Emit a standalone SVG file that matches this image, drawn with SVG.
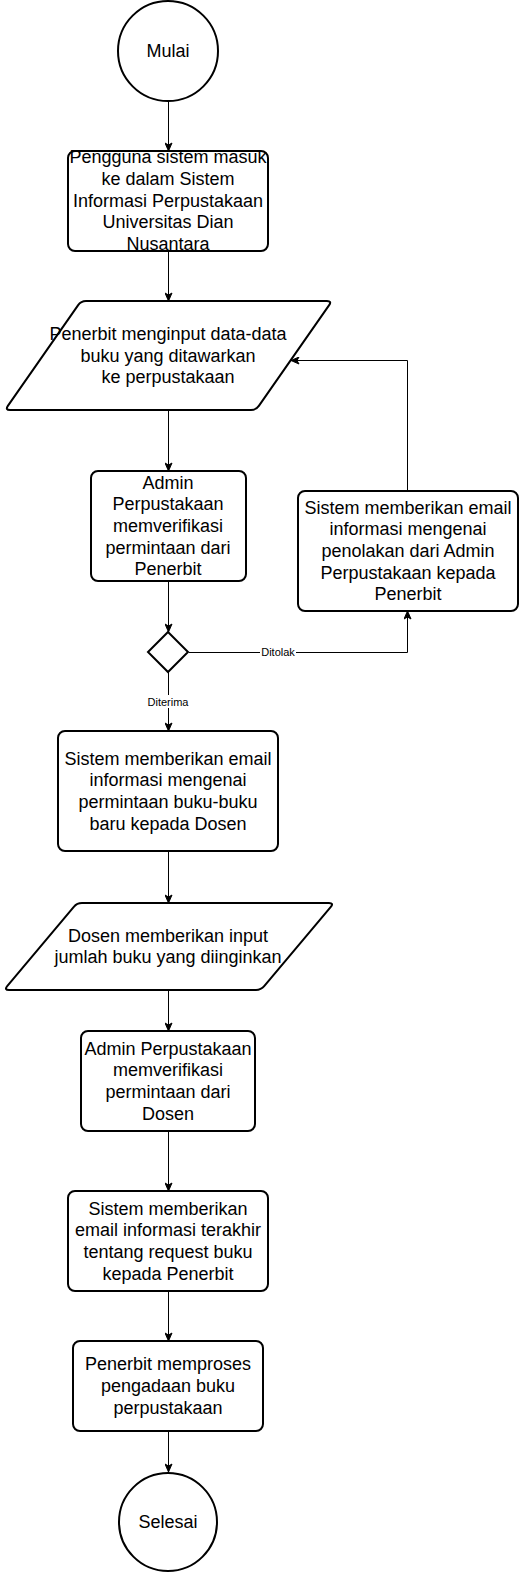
<svg xmlns="http://www.w3.org/2000/svg" width="520" height="1572" viewBox="0 0 520 1572">
<style>
.shape{fill:#fff;stroke:#000;stroke-width:2}
.conn{fill:none;stroke:#000;stroke-width:1;marker-end:url(#arr)}
.t{font-family:"Liberation Sans",Arial,sans-serif;font-size:18px;fill:#000;text-anchor:middle}
.lbl{font-family:"Liberation Sans",Arial,sans-serif;font-size:11px;fill:#000;text-anchor:middle}
</style>
<defs>
<marker id="arr" markerWidth="10" markerHeight="8" refX="9" refY="4" orient="auto" markerUnits="userSpaceOnUse">
<path d="M1,0.5 L9,4 L1,7.5 L3,4 Z" fill="#000" stroke="#000" stroke-width="1"/>
</marker>
</defs>
<rect width="520" height="1572" fill="#fff"/>
<g id="connectors">
<path class="conn" d="M168.5,101 L168.5,151"/>
<path class="conn" d="M168.5,251 L168.5,301"/>
<path class="conn" d="M168.5,410 L168.5,471"/>
<path class="conn" d="M168.5,581 L168.5,632"/>
<path class="conn" d="M168.5,672 L168.5,731"/>
<path class="conn" d="M189,652.5 L407.5,652.5 L407.5,611"/>
<path class="conn" d="M407.5,491 L407.5,360.5 L291,360.5"/>
<path class="conn" d="M168.5,851 L168.5,903"/>
<path class="conn" d="M168.5,990 L168.5,1031"/>
<path class="conn" d="M168.5,1131 L168.5,1191"/>
<path class="conn" d="M168.5,1291 L168.5,1341"/>
<path class="conn" d="M168.5,1431 L168.5,1472"/>
<g id="label-ditolak">
<rect x="260" y="645" width="36" height="13" fill="#fff"/>
<text class="lbl" x="278" y="656">Ditolak</text>
</g>
<g id="label-diterima">
<rect x="147" y="695" width="42" height="13" fill="#fff"/>
<text class="lbl" x="168" y="706">Diterima</text>
</g>
</g>
<g id="mulai">
<circle class="shape" cx="168" cy="51" r="50"/>
<text class="t" x="168" y="57">Mulai</text>
</g>
<g id="login">
<rect class="shape" x="68" y="151" width="200" height="100" rx="7"/>
<text class="t" x="168" y="163">Pengguna sistem masuk</text>
<text class="t" x="168" y="185">ke dalam Sistem</text>
<text class="t" x="168" y="207">Informasi Perpustakaan</text>
<text class="t" x="168" y="228">Universitas Dian</text>
<text class="t" x="168" y="250">Nusantara</text>
</g>
<g id="input-penerbit">
<path class="shape" d="M86,301 L327,301 Q332,301 329.14,305.1 L258.86,405.9 Q256,410 251,410 L10,410 Q5,410 7.86,405.9 L78.14,305.1 Q81,301 86,301 Z"/>
<text class="t" x="168" y="340">Penerbit menginput data-data</text>
<text class="t" x="168" y="362">buku yang ditawarkan</text>
<text class="t" x="168" y="383">ke perpustakaan</text>
</g>
<g id="verif-penerbit">
<rect class="shape" x="91" y="471" width="155" height="110" rx="7"/>
<text class="t" x="168" y="489">Admin</text>
<text class="t" x="168" y="510">Perpustakaan</text>
<text class="t" x="168" y="532">memverifikasi</text>
<text class="t" x="168" y="554">permintaan dari</text>
<text class="t" x="168" y="575">Penerbit</text>
</g>
<g id="email-tolak">
<rect class="shape" x="298" y="491" width="220" height="120" rx="7"/>
<text class="t" x="408" y="514">Sistem memberikan email</text>
<text class="t" x="408" y="535">informasi mengenai</text>
<text class="t" x="408" y="557">penolakan dari Admin</text>
<text class="t" x="408" y="579">Perpustakaan kepada</text>
<text class="t" x="408" y="600">Penerbit</text>
</g>
<g id="keputusan">
<path class="shape" d="M168,632 L188,652 L168,672 L148,652 Z"/>
</g>
<g id="email-dosen">
<rect class="shape" x="58" y="731" width="220" height="120" rx="7"/>
<text class="t" x="168" y="764.6">Sistem memberikan email</text>
<text class="t" x="168" y="786">informasi mengenai</text>
<text class="t" x="168" y="808">permintaan buku-buku</text>
<text class="t" x="168" y="829.6">baru kepada Dosen</text>
</g>
<g id="input-dosen">
<path class="shape" d="M82,903 L329,903 Q334,903 330.8,906.8 L264.2,986.2 Q261,990 256,990 L9,990 Q4,990 7.2,986.2 L73.8,906.8 Q77,903 82,903 Z"/>
<text class="t" x="168" y="941.7">Dosen memberikan input</text>
<text class="t" x="168" y="963.3">jumlah buku yang diinginkan</text>
</g>
<g id="verif-dosen">
<rect class="shape" x="81" y="1031" width="174" height="100" rx="7"/>
<text class="t" x="168" y="1054.6">Admin Perpustakaan</text>
<text class="t" x="168" y="1076">memverifikasi</text>
<text class="t" x="168" y="1098">permintaan dari</text>
<text class="t" x="168" y="1119.6">Dosen</text>
</g>
<g id="email-akhir">
<rect class="shape" x="68" y="1191" width="200" height="100" rx="7"/>
<text class="t" x="168" y="1214.6">Sistem memberikan</text>
<text class="t" x="168" y="1236">email informasi terakhir</text>
<text class="t" x="168" y="1258">tentang request buku</text>
<text class="t" x="168" y="1279.6">kepada Penerbit</text>
</g>
<g id="pengadaan">
<rect class="shape" x="73" y="1341" width="190" height="90" rx="7"/>
<text class="t" x="168" y="1370.4">Penerbit memproses</text>
<text class="t" x="168" y="1392">pengadaan buku</text>
<text class="t" x="168" y="1413.6">perpustakaan</text>
</g>
<g id="selesai">
<circle class="shape" cx="168" cy="1522" r="49"/>
<text class="t" x="168" y="1528">Selesai</text>
</g>
</svg>
